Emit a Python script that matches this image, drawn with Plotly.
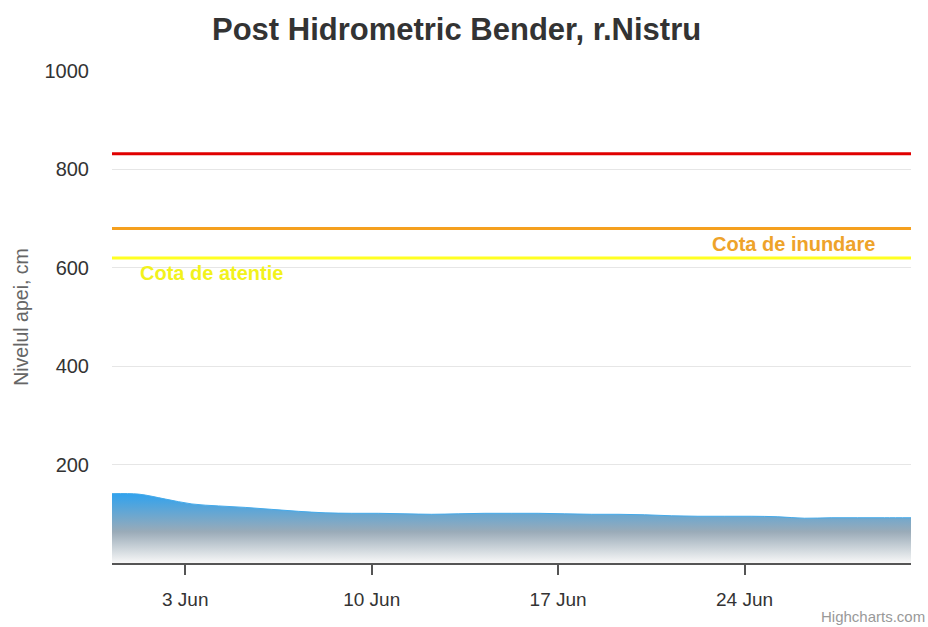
"""Water level at Bender hydrometric post, Nistru river"""
import plotly.graph_objects as go
import pandas as pd

# daily readings (06:00), cm
dates = pd.date_range("2019-05-31 06:00", "2019-06-30 06:00", freq="D")
levels = [141, 140, 130, 120, 116, 113, 109, 105, 102, 101, 101,
          100, 99, 100, 101, 101, 101, 100, 99, 99, 98,
          96, 95, 95, 95, 94, 91, 92, 92, 92, 92]

# warning levels
plot_lines = {"red": 832, "orange": 680, "yellow": 620}
tick_dates = ["2019-06-03", "2019-06-10", "2019-06-17", "2019-06-24"]
tick_labels = ["3 Jun", "10 Jun", "17 Jun", "24 Jun"]

FONT = "Liberation Sans, Arial, sans-serif"

fig = go.Figure()

# area with vertical gradient, blue at top fading to white at bottom
fig.add_trace(go.Scatter(
    x=dates, y=levels, mode="lines", line_shape="spline",
    line={"width": 1, "color": "#45aaea"},
    fill="tozeroy",
    fillgradient={"type": "vertical", "start": 0, "stop": max(levels),
                  "colorscale": [[0, "#f8f8f8"], [0.45, "#9aabb8"], [1, "#30a2ee"]]},
    showlegend=False, hoverinfo="x+y",
))

line_colors = {"red": "#e00000", "orange": "#f5a01e", "yellow": "#ffff22"}
for name, val in plot_lines.items():
    fig.add_hline(y=val, line={"color": line_colors[name], "width": 3}, layer="above")

fig.add_annotation(x=1, xref="paper", xanchor="right", xshift=-34,
                   y=plot_lines["orange"], yref="y", yanchor="top", yshift=-3,
                   text="<b>Cota de inundare</b>", showarrow=False,
                   font={"size": 20, "color": "#eea32a", "family": FONT})
fig.add_annotation(x=0, xref="paper", xanchor="left", xshift=26,
                   y=plot_lines["yellow"], yref="y", yanchor="top", yshift=-2,
                   text="<b>Cota de atentie</b>", showarrow=False,
                   font={"size": 20, "color": "#f2f21c", "family": FONT})

fig.add_annotation(x=1, xref="paper", xanchor="right", xshift=16,
                   y=0, yref="paper", yanchor="bottom", yshift=-64,
                   text="Highcharts.com", showarrow=False,
                   font={"size": 15, "color": "#999999", "family": FONT})

fig.update_layout(
    width=928, height=627,
    margin={"l": 112, "r": 17, "t": 71, "b": 64},
    paper_bgcolor="white", plot_bgcolor="white",
    font={"family": FONT, "color": "#333333"},
    title={"text": "<b>Post Hidrometric Bender, r.Nistru</b>", "x": 0.492, "xanchor": "center",
           "y": 0.953, "yanchor": "middle", "font": {"size": 31, "color": "#333333"}},
    xaxis={"range": [dates[0], dates[-1]], "tickvals": tick_dates, "ticktext": tick_labels,
           "showgrid": False, "showline": True, "linecolor": "#555555", "linewidth": 2,
           "ticks": "outside", "ticklen": 10, "tickcolor": "#555555", "tickwidth": 1.5,
           "tickfont": {"size": 19, "color": "#333333"}, "ticklabelstandoff": 8,
           "zeroline": False},
    yaxis={"range": [0, 1000], "tickvals": [200, 400, 600, 800, 1000],
           "showgrid": True, "gridcolor": "#e6e6e6", "gridwidth": 1,
           "zeroline": False, "showline": False,
           "tickfont": {"size": 20, "color": "#333333"}, "ticklabelstandoff": 22,
           "title": {"text": "Nivelul apei, cm", "standoff": 10,
                     "font": {"size": 19.5, "color": "#666666"}}},
)

# drop the default page margin so the chart sits at the window's corner
fig.write_html("out.html", config={"displayModeBar": False},
               post_script="document.body.style.margin='0';")
